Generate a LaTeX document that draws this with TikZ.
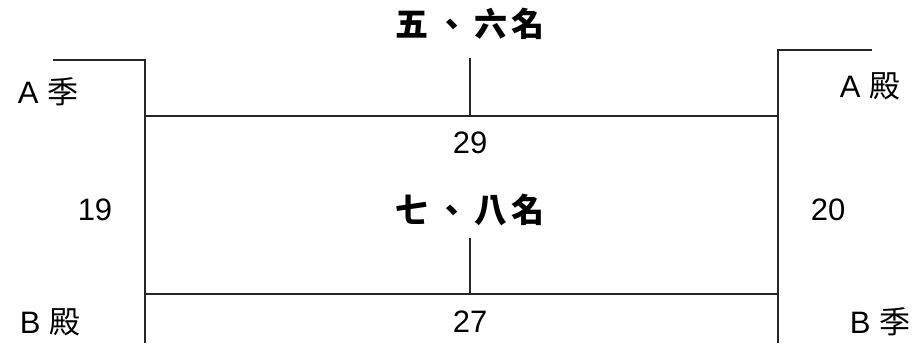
\documentclass[tikz,border=0pt]{standalone}
\usepackage{fontspec}
\setmainfont{Liberation Sans}
\newfontfamily\cjkfont{Noto Sans CJK TC}
\usetikzlibrary{positioning}

\tikzset{
	bracketline/.style={draw=black!85, line width=0.8pt},
	teamlabel/.style={font=\fontsize{15.5}{17}\selectfont, inner sep=0pt},
	scorelabel/.style={font=\fontsize{15.5}{17}\selectfont, inner sep=0pt},
	placelabel/.style={font=\cjkfont\bfseries\fontsize{16.5}{19}\selectfont, inner sep=0pt}
}

\begin{document}
\begin{tikzpicture}[x=0.5pt, y=-0.5pt]
	\useasboundingbox (0,0) rectangle (920,343);
	%%%%%%%%%%%%%%%%%%%%%%%%%%%%%%%%%%%%%%%%%%%%%%%%%%%%%%%%%%
	\def\LeftX{145}
	\def\RightX{778}
	\def\MidX{470}
	\def\UpperY{116}
	\def\LowerY{294}
	%%%%%%%%%%%%%%%%%%%%%%%%%%%%%%%%%%%%%%%%%%%%%%%%%%%%%%%%%%
	% bracket corners
	\coordinate (LeftTop) at (53,60);
	\coordinate (LeftCorner) at (\LeftX,60);
	\coordinate (LeftUpper) at (\LeftX,\UpperY);
	\coordinate (LeftLower) at (\LeftX,\LowerY);
	\coordinate (LeftEnd) at (\LeftX,343);
	\coordinate (RightTop) at (872,50);
	\coordinate (RightCorner) at (\RightX,50);
	\coordinate (RightUpper) at (\RightX,\UpperY);
	\coordinate (RightLower) at (\RightX,\LowerY);
	\coordinate (RightEnd) at (\RightX,343);
	\coordinate (UpperMid) at (\MidX,\UpperY);
	\coordinate (UpperStem) at (\MidX,58);
	\coordinate (LowerMid) at (\MidX,\LowerY);
	\coordinate (LowerStem) at (\MidX,238);
	
	% left bracket
	\draw[bracketline] (LeftTop) -- (LeftCorner) -- (LeftEnd);
	
	% right bracket
	\draw[bracketline] (RightTop) -- (RightCorner) -- (RightEnd);
	
	% matches between the brackets
	\draw[bracketline] (LeftUpper) -- (RightUpper);
	\draw[bracketline] (LeftLower) -- (RightLower);
	\draw[bracketline] (UpperMid) -- (UpperStem);
	\draw[bracketline] (LowerMid) -- (LowerStem);
	
	% places
	\node[placelabel] (FifthSixth) at (\MidX,24) {五\hspace{0.2em}、\hspace{0.2em}六\hspace{0.1em}名};
	\node[placelabel] (SeventhEighth) at (\MidX,210) {七\hspace{0.2em}、\hspace{0.2em}八\hspace{0.1em}名};
	
	% match numbers
	\node[scorelabel] (UpperGame) at (\MidX,143) {29};
	\node[scorelabel] (LowerGame) at (\MidX,322) {27};
	\node[scorelabel] (LeftGame) at (95,210) {19};
	\node[scorelabel] (RightGame) at (828,210) {20};
	
	% teams
	\node[teamlabel] (ASeason) at (48,92) {A {\cjkfont 季}};
	\node[teamlabel] (BLast) at (50,322) {B {\cjkfont 殿}};
	\node[teamlabel] (ALast) at (870,86) {A {\cjkfont 殿}};
	\node[teamlabel] (BSeason) at (880,322) {B {\cjkfont 季}};
\end{tikzpicture}
\end{document}
